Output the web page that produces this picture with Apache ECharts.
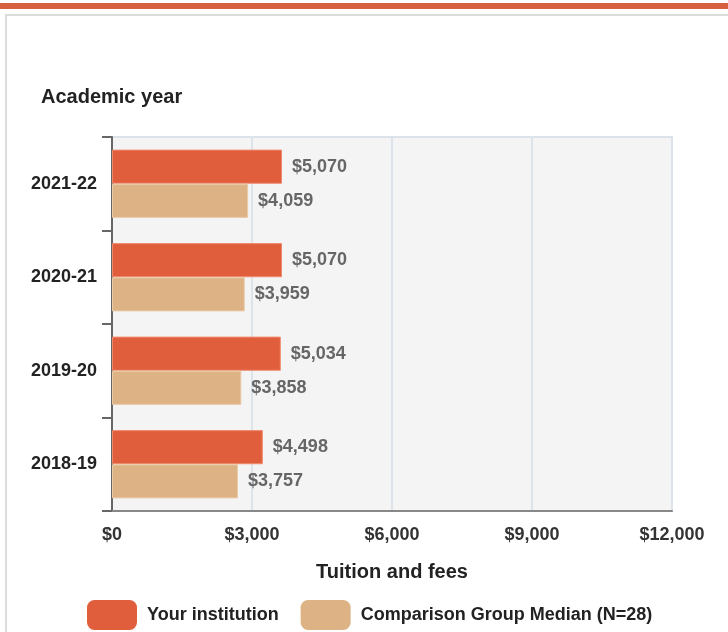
<!DOCTYPE html>
<html>
<head>
<meta charset="utf-8">
<script src="https://cdn.jsdelivr.net/npm/echarts@6/dist/echarts.min.js"></script>
<style>
  html, body { margin: 0; padding: 0; background: #fff; }
  #chart { width: 728px; height: 632px; }
</style>
</head>
<body>
<div id="chart"></div>
<script>
// academic years, top to bottom
var years = ['2021-22', '2020-21', '2019-20', '2018-19'];
var yourInstitution = [5070, 5070, 5034, 4498];
var comparisonMedian = [4059, 3959, 3858, 3757];
var tickValues = [0, 3000, 6000, 9000, 12000];

var seriesNames = ['Your institution', 'Comparison Group Median (N=28)'];

function money(v) {
  return '$' + Number(v).toLocaleString('en-US');
}

var chart = echarts.init(document.getElementById('chart'));

var labelStyle = {
  show: true,
  position: 'right',
  distance: 10,
  color: '#666',
  fontWeight: 'bold',
  fontSize: 18,
  fontFamily: 'Liberation Sans',
  formatter: function (p) { return money(p.value); }
};

var option = {
  animation: false,
  textStyle: { fontFamily: 'Liberation Sans' },
  graphic: [
    // orange strip at the top
    { type: 'rect', shape: { x: 0, y: 3, width: 728, height: 6 }, style: { fill: '#D9603F' } },
    // panel frame
    { type: 'rect', shape: { x: 6, y: 15, width: 740, height: 640 }, style: { fill: 'none', stroke: '#dcdcdc', lineWidth: 2 } }
  ],
  title: {
    text: 'Academic year',
    left: 36,
    top: 82,
    textStyle: { fontSize: 20, fontWeight: 'bold', color: '#222', fontFamily: 'Liberation Sans' }
  },
  legend: {
    left: 87,
    bottom: 2,
    padding: 0,
    itemWidth: 50,
    itemHeight: 30,
    itemGap: 22,
    icon: 'roundRect',
    itemStyle: { borderWidth: 0 },
    textStyle: { fontSize: 18, color: '#222', fontWeight: 'bold', padding: [0, 0, 0, 5] },
    data: seriesNames
  },
  grid: {
    left: 112,
    right: 56,
    top: 137,
    bottom: 121,
    show: true,
    backgroundColor: '#f4f4f4',
    borderColor: '#dde3ea',
    borderWidth: 2
  },
  xAxis: [
    {
      type: 'value',
      min: tickValues[0],
      max: tickValues[tickValues.length - 1],
      interval: 3000,
      name: 'Tuition and fees',
      nameLocation: 'middle',
      nameGap: 51,
      nameTextStyle: { fontSize: 20, color: '#222', fontWeight: 'bold' },
      axisLine: { show: true, lineStyle: { color: '#888', width: 2 } },
      axisTick: { show: false },
      axisLabel: {
        color: '#333',
        fontSize: 18,
        fontWeight: 'bold',
        margin: 15,
        formatter: function (v) { return money(v); }
      },
      splitLine: { show: true, lineStyle: { color: '#dde3ea', width: 2 } }
    },
    {
      // bar scale of the original chart
      type: 'value',
      min: 0,
      max: 16700,
      show: false,
      splitLine: { show: false }
    }
  ],
  yAxis: {
    type: 'category',
    inverse: true,
    data: years,
    axisLine: { show: true, lineStyle: { color: '#666', width: 2 } },
    axisTick: { show: true, length: 10, lineStyle: { color: '#666', width: 2 } },
    axisLabel: { color: '#222', fontSize: 18, fontWeight: 'bold', margin: 15 }
  },
  series: [
    {
      name: seriesNames[0],
      type: 'bar',
      xAxisIndex: 1,
      data: yourInstitution,
      barGap: '0%',
      barCategoryGap: '27%',
      itemStyle: { color: '#E05E3C', borderColor: '#F08A6E', borderWidth: 1 },
      label: labelStyle
    },
    {
      name: seriesNames[1],
      type: 'bar',
      xAxisIndex: 1,
      data: comparisonMedian,
      barGap: '0%',
      barCategoryGap: '27%',
      itemStyle: { color: '#DDB386', borderColor: '#EACBA8', borderWidth: 1 },
      label: labelStyle
    }
  ]
};

chart.setOption(option);
</script>
</body>
</html>
